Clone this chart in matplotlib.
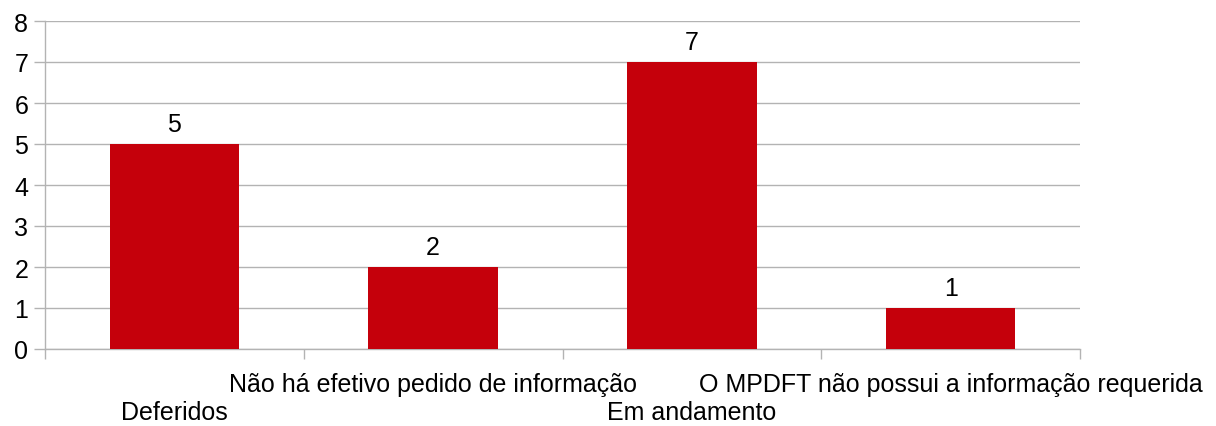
import numpy as np
import matplotlib.pyplot as plt

# Data
categories = ["Deferidos", "Não há efetivo pedido de informação",
              "Em andamento", "O MPDFT não possui a informação requerida"]
values = [5, 2, 7, 1]

bar_color = "#C5000B"
grid_color = "#b3b3b3"

plt.rcParams['font.family'] = ['Liberation Sans', 'DejaVu Sans']

fig = plt.figure(figsize=(12.16, 4.27), dpi=100)
ax = fig.add_axes([45/1216, 1 - 350/427, (1080 - 45)/1216, (350 - 22)/427])

x = np.arange(len(categories))
bars = ax.bar(x, values, width=0.5, color=bar_color, zorder=3)

# value labels
for xi, v in zip(x, values):
    ax.annotate(str(v), (xi, v), xytext=(0, 6), textcoords="offset points",
                ha="center", va="bottom", fontsize=18)

ax.set_xlim(-0.5, len(categories) - 0.5)
ax.set_ylim(0, 8)
ax.set_yticks(range(0, 9))
ax.grid(axis="y", color=grid_color, linewidth=1, zorder=0)

# staggered category labels (two rows)
ax.set_xticks([])
for i, (xi, c) in enumerate(zip(x, categories)):
    dy = -25.5 if i % 2 else -45.5
    ax.annotate(c, (xi, 0), xycoords=("data", "axes fraction"),
                xytext=(0, dy), textcoords="offset points",
                ha="center", va="center", fontsize=18)
ax.set_xticks(np.arange(-0.5, len(categories), 1), minor=True)
ax.tick_params(axis="x", which="minor", length=7.5, color=grid_color, width=1)
ax.tick_params(axis="y", length=8, color=grid_color, width=1, labelsize=18, pad=4)

for s in ["top", "right"]:
    ax.spines[s].set_visible(False)
for s in ["left", "bottom"]:
    ax.spines[s].set_color(grid_color)
    ax.spines[s].set_linewidth(1)

fig.savefig("out.png", dpi=100)
